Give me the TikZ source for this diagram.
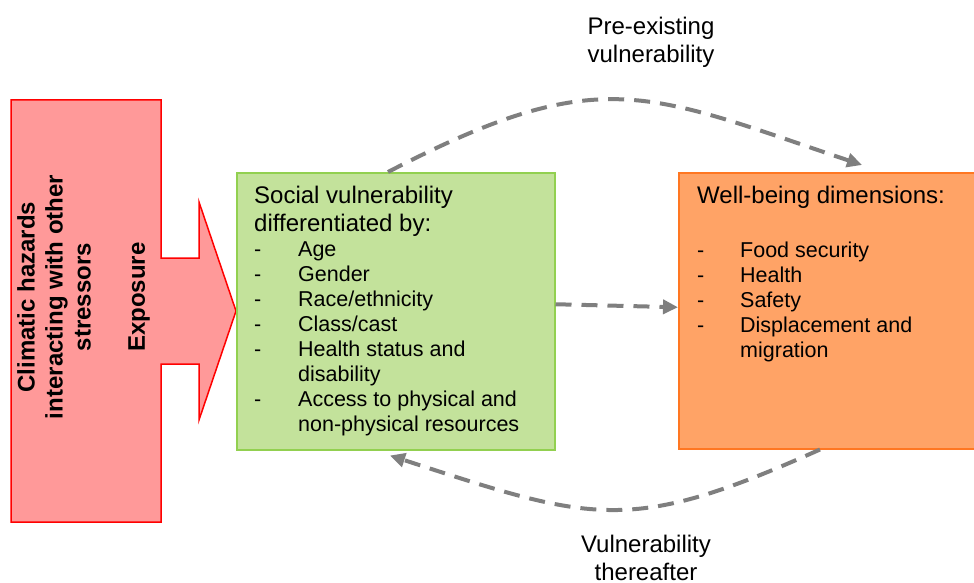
\documentclass[tikz,border=0pt]{standalone}
\usepackage{fontspec}
\setmainfont{Liberation Sans}
\usetikzlibrary{arrows.meta}
\definecolor{hazfill}{HTML}{FF9999}
\definecolor{hazdraw}{HTML}{FF0000}
\definecolor{svfill}{HTML}{C3E29B}
\definecolor{svdraw}{HTML}{92D050}
\definecolor{wbfill}{HTML}{FFA366}
\definecolor{wbdraw}{HTML}{FF7722}
\definecolor{flow}{HTML}{7F7F7F}
\tikzset{
  infobox/.style={draw, line width=1.5pt, anchor=north west, inner sep=0pt},
  flowarrow/.style={draw=flow, line width=4pt, dash pattern=on 16pt off 10pt,
    -{Triangle[length=15pt,width=14pt]}},
  boxtext/.style={anchor=north west, inner sep=0pt, align=left,
    font=\fontsize{21.5}{25}\selectfont},
  labeltext/.style={anchor=north, align=center, inner sep=0pt,
    font=\fontsize{24}{28}\selectfont},
  hazardtext/.style={rotate=90, align=center, inner sep=0pt,
    font=\bfseries\fontsize{24}{28}\selectfont}
}
\newcommand{\hd}[1]{{\fontsize{24}{28}\selectfont #1}}
\newcommand{\itm}[1]{\makebox[44pt][l]{-}#1}
\newcommand{\cnt}[1]{\hspace*{44pt}#1}
\begin{document}
\begin{tikzpicture}[x=1pt,y=-1pt]
\clip (0,0) rectangle (974,583);
% hazard block arrow
\draw[fill=hazfill, draw=hazdraw, line width=1.5pt, line join=miter]
  (11,100) -- (161,100) -- (161,258) -- (199,258) -- (199,202) -- (236,311)
  -- (199,420) -- (199,364) -- (161,364) -- (161,522) -- (11,522) -- cycle;
\node[hazardtext] (haz) at (54,297) {Climatic hazards\\interacting with other\\stressors};
\node[hazardtext] (expo) at (139,297) {Exposure};
% boxes
\node[infobox, fill=svfill, draw=svdraw, minimum width=318pt, minimum height=277pt]
  (svb) at (236,172) {};
\node[infobox, fill=wbfill, draw=wbdraw, minimum width=320pt, minimum height=276pt]
  (wbb) at (678,172) {};
\node[boxtext] (svt) at (254,186) {\hd{Social vulnerability}\\[3pt]
  \hd{differentiated by:}\\
  \itm{Age}\\
  \itm{Gender}\\
  \itm{Race/ethnicity}\\
  \itm{Class/cast}\\
  \itm{Health status and}\\
  \cnt{disability}\\
  \itm{Access to physical and}\\
  \cnt{non-physical resources}};
\node[boxtext] (wbt) at (697,186) {\hd{Well-being dimensions:}\\[29pt]
  \makebox[43pt][l]{-}Food security\\
  \makebox[43pt][l]{-}Health\\
  \makebox[43pt][l]{-}Safety\\
  \makebox[43pt][l]{-}Displacement and\\
  \hspace*{43pt}migration};
% labels
\node[labeltext] (pre) at (651,17) {Pre-existing\\vulnerability};
\node[labeltext] (after) at (646,535) {Vulnerability\\thereafter};
% connectors
\draw[flowarrow] ([xshift=152pt]svb.north west)
  .. controls (600,62) and (645,92) .. ([xshift=184pt,yshift=7pt]wbb.north west);
\draw[flowarrow] ([yshift=7pt]svb.east) -- ([yshift=3.5pt]wbb.west);
\draw[flowarrow] ([xshift=142pt]wbb.south west)
  .. controls (629,535) and (594,522) .. ([xshift=154pt,yshift=-5pt]svb.south west);
\end{tikzpicture}
\end{document}
